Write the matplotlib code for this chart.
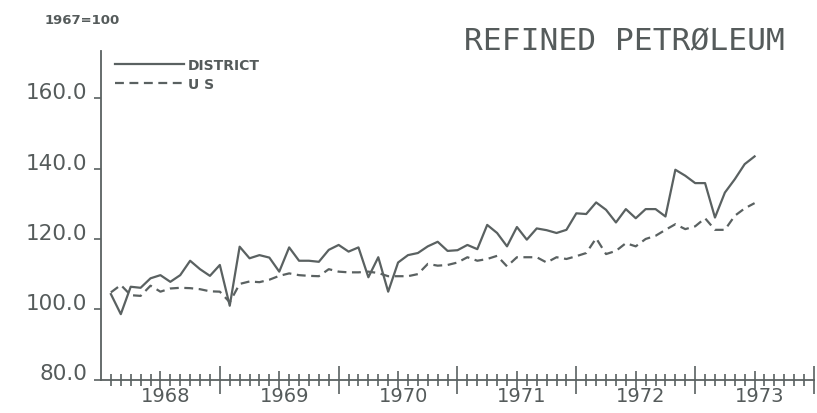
import numpy as np
import matplotlib
matplotlib.use("Agg")
import matplotlib.pyplot as plt
import matplotlib.transforms as mtransforms

# monthly index, 1967=100, Jan 1968 - Jun 1973
district = [
    104.3, 98.6, 106.4, 106.1, 108.8, 109.7, 107.8, 109.7, 113.8, 111.4, 109.5, 112.6,  # 1968
    101.0, 117.8, 114.5, 115.4, 114.7, 110.7, 117.6, 113.8, 113.8, 113.5, 116.9, 118.3,  # 1969
    116.4, 117.6, 109.1, 114.8, 105.0, 113.3, 115.4, 116.0, 117.9, 119.2, 116.6, 116.8,  # 1970
    118.3, 117.1, 124.0, 121.7, 117.9, 123.4, 119.8, 123.0, 122.5, 121.7, 122.6, 127.3,  # 1971
    127.1, 130.4, 128.3, 124.7, 128.5, 125.9, 128.5, 128.5, 126.4, 139.7, 138.0, 135.9,  # 1972
    135.9, 126.1, 133.2, 137.0, 141.3, 143.5,                                            # 1973
]
us = [
    104.8, 106.9, 104.0, 103.8, 106.7, 105.0, 105.9, 106.1, 106.0, 105.7, 105.1, 105.0,
    102.0, 107.2, 107.9, 107.7, 108.4, 109.5, 110.2, 109.7, 109.5, 109.4, 111.4, 110.7,
    110.5, 110.5, 110.7, 110.3, 109.4, 109.4, 109.4, 110.0, 112.9, 112.4, 112.6, 113.3,
    114.8, 113.8, 114.3, 115.2, 112.2, 114.8, 114.8, 114.8, 113.3, 114.8, 114.3, 115.1,
    116.0, 120.2, 115.7, 116.6, 118.8, 117.9, 120.0, 120.9, 122.6, 124.2, 122.8, 123.6,
    125.9, 122.6, 122.6, 126.6, 128.7, 130.2,
]
years = ["1968", "1969", "1970", "1971", "1972", "1973"]
y_ticks = [80, 100, 120, 140, 160]

INK = "#5a6161"
TXT = "#555b5b"

# months counted from end of Dec 1967
months = np.arange(1, len(district) + 1)

fig = plt.figure(figsize=(8.17, 4.14), dpi=100)
ax = fig.add_axes([101 / 817, 33.5 / 414, 713 / 817, 328.5 / 414])

ax.plot(months, district, color=INK, linewidth=1.6, label="DISTRICT")
ax.plot(months, us, color=INK, linewidth=1.6, dashes=(4, 2.5), label="U S")

ax.set_xlim(0, 12 * len(years))
ax.set_ylim(80, 173.5)

for s in ["top", "right"]:
    ax.spines[s].set_visible(False)
for s in ["left", "bottom"]:
    ax.spines[s].set_color(INK)
    ax.spines[s].set_linewidth(1.3)

# y axis
ax.set_yticks(y_ticks)
ax.set_yticklabels([f"{v:.1f}" for v in y_ticks])
ax.tick_params(axis="y", direction="out", length=5, width=1.2, color=INK,
               labelsize=15.5, labelcolor=TXT, pad=5)
for lab in ax.get_yticklabels():
    lab.set_verticalalignment("baseline")

# x axis: mid-year ticks carry the year labels, months as minor ticks
mid = [12 * i + 6 for i in range(len(years))]
ax.set_xticks(mid)
ax.set_xticklabels(years)
ax.set_xticks([m for m in range(0, 12 * len(years) + 1) if m % 6 != 0], minor=True)
ax.tick_params(axis="x", which="major", direction="inout", length=13, width=1.2,
               color=INK, labelsize=14, labelcolor=TXT, pad=-2)
ax.tick_params(axis="x", which="minor", direction="inout", length=8, width=1.2, color=INK)
shift = mtransforms.ScaledTranslation(5 / 100, 0, fig.dpi_scale_trans)
for lab in ax.get_xticklabels():
    lab.set_transform(lab.get_transform() + shift)

# year boundary ticks
sec = ax.secondary_xaxis("bottom")
sec.set_xticks([12 * i for i in range(1, len(years) + 1)])
sec.set_xticklabels([])
sec.tick_params(direction="inout", length=20, width=1.2, color=INK)
sec.spines["bottom"].set_visible(False)

leg = ax.legend(loc="upper left", bbox_to_anchor=(115 / 817, 1 - 59 / 414),
                bbox_transform=fig.transFigure, frameon=False, fontsize=10,
                handlelength=5.0, handletextpad=0.25, labelspacing=0.35,
                borderpad=0, borderaxespad=0)
for t in leg.get_texts():
    t.set_color(TXT)
    t.set_fontweight("bold")

fig.text(785 / 817, 1 - 42 / 414, "REFINED PETRØLEUM", ha="right", va="center",
         fontsize=22.5, family="DejaVu Sans Mono", color=TXT)
fig.text(45 / 817, 1 - 20 / 414, "1967=100", ha="left", va="center",
         fontsize=9.5, fontweight="bold", color=TXT)

fig.savefig("out.png", dpi=100)
